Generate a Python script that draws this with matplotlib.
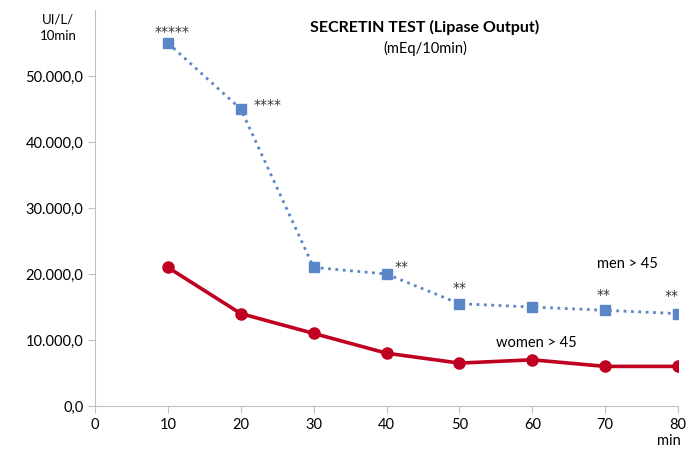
import matplotlib
matplotlib.use("Agg")
import matplotlib.pyplot as plt
from matplotlib.ticker import FuncFormatter

plt.rcParams["font.family"] = ["Lato", "DejaVu Sans"]

minutes = [10, 20, 30, 40, 50, 60, 70, 80]
men = [55000, 45000, 21000, 20000, 15500, 15000, 14500, 14000]
women = [21000, 14000, 11000, 8000, 6500, 7000, 6000, 6000]
stars = ["*****", "****", "", "**", "**", "", "**", "**"]

fig = plt.figure(figsize=(6.99, 4.59), dpi=100)
ax = fig.add_axes([0.136, 0.1155, 0.834, 0.8625])

ax.plot(minutes, men, color="#5B87C9", linestyle=":", linewidth=2,
        marker="s", markersize=7, label="men > 45")
ax.plot(minutes, women, color="#C00020", linestyle="-", linewidth=2.6,
        marker="o", markersize=8, label="women > 45")

# significance marks, nudged off the markers (points)
nudge = [(3, 3), (19, -2), None, (11, 0), (0, 6), None, (-1, 6), (-5, 8)]
for x, y, s, off in zip(minutes, men, stars, nudge):
    if not s:
        continue
    ax.annotate(s, (x, y), xytext=off, textcoords="offset points",
                ha="center", va="bottom", fontsize=10, color="#333333",
                family="DejaVu Sans")

ax.text(73, 21500, "men > 45", ha="center", va="center", fontsize=10.5)
ax.text(60.5, 9600, "women > 45", ha="center", va="center", fontsize=10.5)

ax.set_xlim(0, 80)
ax.set_ylim(0, 60000)
ax.set_xticks(range(0, 81, 10))
ax.set_yticks(range(0, 50001, 10000))
ax.yaxis.set_major_formatter(FuncFormatter(
    lambda v, p: f"{v:,.1f}".replace(",", "X").replace(".", ",").replace("X", ".")))

for side in ("top", "right"):
    ax.spines[side].set_visible(False)
for side in ("left", "bottom"):
    ax.spines[side].set_color("#BFBFBF")
ax.tick_params(axis="both", colors="#BFBFBF", labelcolor="black", labelsize=10.5, length=5)

fig.text(0.608, 0.94, "SECRETIN TEST (Lipase Output)", ha="center", va="center",
         fontsize=11.5, fontweight="bold")
fig.text(0.608, 0.895, "(mEq/10min)", ha="center", va="center", fontsize=10.5)
fig.text(0.083, 0.94, "UI/L/\n10min", ha="center", va="center", fontsize=9.5,
         linespacing=1.4)
fig.text(0.957, 0.04, "min", ha="center", va="center", fontsize=10.5)

fig.savefig("out.png", dpi=100)
